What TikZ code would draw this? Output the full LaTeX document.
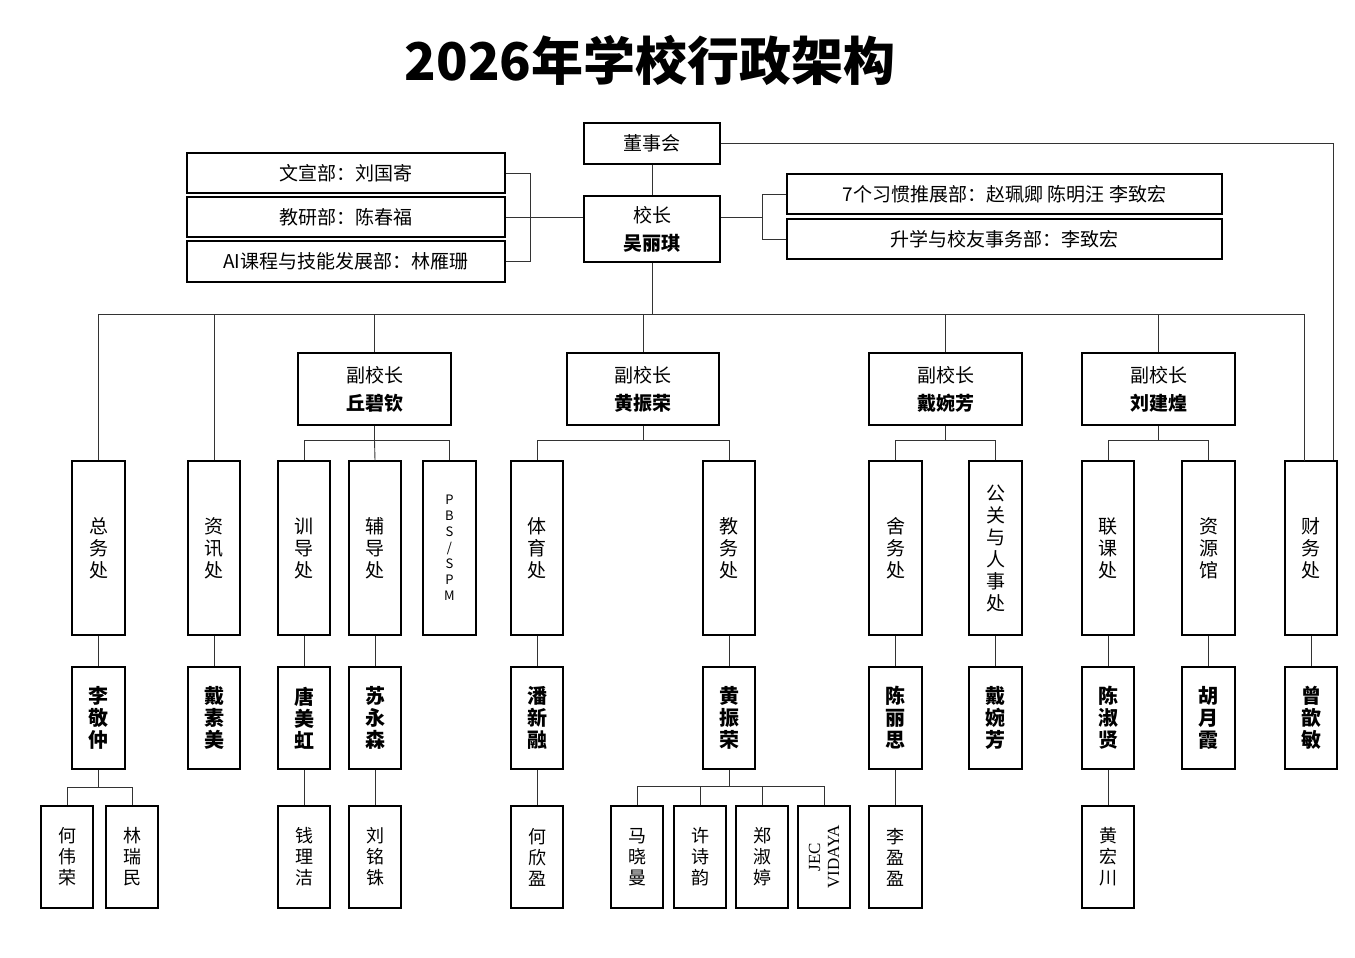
\documentclass[tikz,border=0pt]{standalone}
\usepackage{fontspec}
\setmainfont{Noto Sans CJK SC}
\newfontfamily\serifx{Liberation Serif}
\usetikzlibrary{calc}
\newcommand\mybox[7]{\node[box,#7,minimum width={(#4-#2)*1pt},minimum height={(#5-#3)*1pt}] (#1) at ({(#2+#4)/2},{(#3+#5)/2}) {#6};}
\begin{document}
\begin{tikzpicture}[x=1pt,y=-1pt,
 box/.style={draw=black,line width=1.4pt,fill=white,inner sep=0pt,align=center,font=\fontsize{19}{22}\selectfont},
 two/.style={font=\fontsize{19}{28}\selectfont},
 nm/.style={font=\fontsize{20}{22}\selectfont\bfseries},
 sm/.style={font=\fontsize{18}{21}\selectfont},
 ln/.style={draw=black!80,line width=0.9pt}]
\useasboundingbox (0,0) rectangle (1355,958);
\node[font=\fontsize{52}{56}\selectfont\bfseries] (title) at (650,60) {2026年学校行政架构};
% top
\mybox{ds}{584}{123}{720}{164}{董事会}{}
\mybox{xz}{584}{196}{720}{262}{校长\\\textbf{吴丽琪}}{two}
\mybox{l1}{187}{153}{505}{193}{文宣部：刘国寄}{}
\mybox{l2}{187}{197}{505}{237}{教研部：陈春福}{}
\mybox{l3}{187}{241}{505}{282}{AI课程与技能发展部：林雁珊}{}
\mybox{r1}{787}{174}{1222}{214}{7个习惯推展部：赵珮卿 陈明汪 李致宏}{}
\mybox{r2}{787}{219}{1222}{259}{升学与校友事务部：李致宏}{}
\coordinate (lb) at (530,217);
\coordinate (rb) at (762,217);
\draw[ln] (l1.east) -| (lb); \draw[ln] (l3.east) -| (lb); \draw[ln] (l2.east) -- (l2.east -| xz.west);
\draw[ln] (r1.west) -| (rb); \draw[ln] (r2.west) -| (rb); \draw[ln] (rb) -- (rb -| xz.east);
\draw[ln] (ds) -- (xz);
% VPs
\mybox{v1}{298}{353}{451}{425}{副校长\\\textbf{丘碧钦}}{two}
\mybox{v2}{567}{353}{719}{425}{副校长\\\textbf{黄振荣}}{two}
\mybox{v3}{869}{353}{1022}{425}{副校长\\\textbf{戴婉芳}}{two}
\mybox{v4}{1082}{353}{1235}{425}{副校长\\\textbf{刘建煌}}{two}
% departments
\mybox{d1}{72}{461}{125}{635}{总\\务\\处}{}
\mybox{d2}{188}{461}{240}{635}{资\\讯\\处}{}
\mybox{d3}{278}{461}{330}{635}{训\\导\\处}{}
\mybox{d4}{349}{461}{401}{635}{辅\\导\\处}{}
\mybox{d5}{423}{461}{476}{635}{P\\B\\S\\/\\S\\P\\M}{font=\fontsize{13}{16}\selectfont}
\mybox{d6}{511}{461}{563}{635}{体\\育\\处}{}
\mybox{d7}{703}{461}{755}{635}{教\\务\\处}{}
\mybox{d8}{869}{461}{922}{635}{舍\\务\\处}{}
\mybox{d9}{969}{461}{1022}{635}{公\\关\\与\\人\\事\\处}{}
\mybox{d10}{1082}{461}{1134}{635}{联\\课\\处}{}
\mybox{d11}{1182}{461}{1235}{635}{资\\源\\馆}{}
\mybox{d12}{1285}{461}{1337}{635}{财\\务\\处}{}
% heads
\mybox{h1}{72}{667}{125}{769}{李\\敬\\仲}{nm}
\mybox{h2}{188}{667}{240}{769}{戴\\素\\美}{nm}
\mybox{h3}{278}{667}{330}{769}{唐\\美\\虹}{nm}
\mybox{h4}{349}{667}{401}{769}{苏\\永\\森}{nm}
\mybox{h6}{511}{667}{563}{769}{潘\\新\\融}{nm}
\mybox{h7}{703}{667}{755}{769}{黄\\振\\荣}{nm}
\mybox{h8}{869}{667}{922}{769}{陈\\丽\\思}{nm}
\mybox{h9}{969}{667}{1022}{769}{戴\\婉\\芳}{nm}
\mybox{h10}{1082}{667}{1134}{769}{陈\\淑\\贤}{nm}
\mybox{h11}{1182}{667}{1235}{769}{胡\\月\\霞}{nm}
\mybox{h12}{1285}{667}{1337}{769}{曾\\歆\\敏}{nm}
% staff
\mybox{s1}{41}{806}{93}{908}{何\\伟\\荣}{sm}
\mybox{s2}{106}{806}{158}{908}{林\\瑞\\民}{sm}
\mybox{s3}{278}{806}{330}{908}{钱\\理\\洁}{sm}
\mybox{s4}{349}{806}{401}{908}{刘\\铭\\铢}{sm}
\mybox{s6}{511}{806}{563}{908}{何\\欣\\盈}{sm}
\mybox{s7}{611}{806}{663}{908}{马\\晓\\曼}{sm}
\mybox{s8}{674}{806}{726}{908}{许\\诗\\韵}{sm}
\mybox{s9}{736}{806}{788}{908}{郑\\淑\\婷}{sm}
\mybox{s10}{798}{806}{850}{908}{}{}
\node[rotate=90,align=center,font=\serifx\fontsize{17}{19}\selectfont] (jec) at (s10.center) {JEC\\VIDAYA};
\mybox{s11}{869}{806}{922}{908}{李\\盈\\盈}{sm}
\mybox{s12}{1082}{806}{1134}{908}{黄\\宏\\川}{sm}
% main bus
\coordinate (bus) at (652,314);
\draw[ln] (xz.south) -- (bus);
\draw[ln] (d1.north) |- (bus);
\draw[ln] (d2.north) |- (bus);
\draw[ln] (v1.north) |- (bus);
\draw[ln] (v2.north) -- (v2.north |- bus);
\draw[ln] (v3.north) |- (bus);
\draw[ln] (v4.north) |- (bus);
\coordinate (fin) at (1304,461);
\draw[ln] (fin) |- (bus);
\draw[ln] (ds.east) -| (d12.north -| 1333,0);
% VP buses
\coordinate (b1) at (374.5,440);
\draw[ln] (v1.south) -- (b1);
\draw[ln] (d3.north) |- (b1); \draw[ln] (d4.north) -- (b1); \draw[ln] (d5.north) |- (b1);
\coordinate (b2) at (643,440);
\draw[ln] (v2.south) -- (b2);
\draw[ln] (d6.north) |- (b2); \draw[ln] (d7.north) |- (b2);
\coordinate (b3) at (945.5,440);
\draw[ln] (v3.south) -- (b3);
\draw[ln] (d8.north) |- (b3); \draw[ln] (d9.north) |- (b3);
\coordinate (b4) at (1158.5,440);
\draw[ln] (v4.south) -- (b4);
\draw[ln] (d10.north) |- (b4); \draw[ln] (d11.north) |- (b4);
% dept to heads
\foreach \i in {1,2,3,4,6,7,8,9,10,11,12} {\draw[ln] (d\i.south) -- (h\i.north);}
\draw[ln] (h3.south) -- (s3.north);
\draw[ln] (h4.south) -- (s4.north);
\draw[ln] (h6.south) -- (s6.north);
\draw[ln] (h8.south) -- (s11.north);
\draw[ln] (h10.south) -- (s12.north);
\coordinate (c1) at (98.5,787);
\draw[ln] (h1.south) -- (c1); \draw[ln] (s1.north) |- (c1); \draw[ln] (s2.north) |- (c1);
\coordinate (c2) at (729,786);
\draw[ln] (h7.south) -- (c2);
\foreach \s in {s7,s8,s9,s10} {\draw[ln] (\s.north) |- (c2);}
\end{tikzpicture}
\end{document}
